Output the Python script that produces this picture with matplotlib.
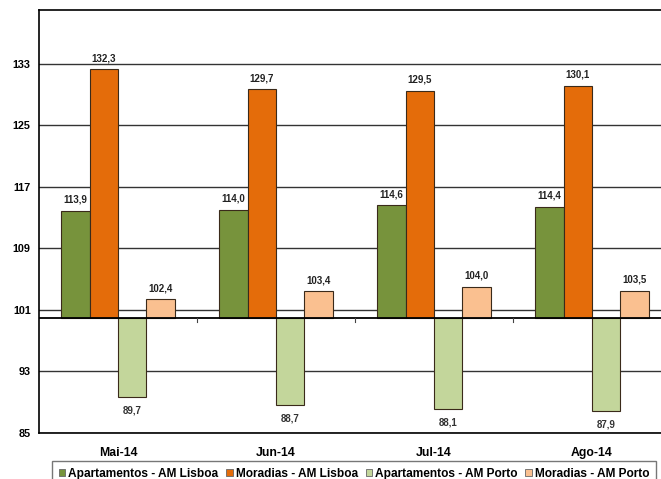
import numpy as np
import matplotlib
matplotlib.use("Agg")
import matplotlib.pyplot as plt

# dados (índice, base 100)
months = ["Mai-14", "Jun-14", "Jul-14", "Ago-14"]
series_names = ["Apartamentos - AM Lisboa", "Moradias - AM Lisboa",
                "Apartamentos - AM Porto", "Moradias - AM Porto"]
apart_lisboa = [113.9, 114.0, 114.6, 114.4]
moradias_lisboa = [132.3, 129.7, 129.5, 130.1]
apart_porto = [89.7, 88.7, 88.1, 87.9]
moradias_porto = [102.4, 103.4, 104.0, 103.5]
yticks = [85, 93, 101, 109, 117, 125, 133]

colors = ["#77933C", "#E46C0A", "#C3D69B", "#FAC090"]
base = 100

plt.rcParams['font.family'] = ['Liberation Sans', 'DejaVu Sans']

fig = plt.figure(figsize=(6.61, 4.79), dpi=100)
ax = fig.add_axes([39 / 661, 1 - 433 / 479, 632 / 661, 423 / 479])

x = np.arange(len(months))
width = 0.18
all_series = [apart_lisboa, moradias_lisboa, apart_porto, moradias_porto]

for i, (vals, col, name) in enumerate(zip(all_series, colors, series_names)):
    pos = x + (i - 1.5) * width
    heights = np.array(vals) - base
    ax.bar(pos, heights, width, bottom=base, color=col,
           edgecolor="#3a2a1a", linewidth=0.8, label=name, zorder=3)
    for xp, v in zip(pos, vals):
        txt = f"{v:.1f}".replace(".", ",")
        if v >= base:
            ax.text(xp, v + 0.8, txt, ha="center", va="bottom",
                    fontsize=7, fontweight="bold", color="#222222")
        else:
            ax.text(xp, v - 1.1, txt, ha="center", va="top",
                    fontsize=7, fontweight="bold", color="#333333")

# linha de base e marcas entre categorias
ax.axhline(base, color="black", linewidth=1.3, zorder=4)
for b in x[:-1] + 0.5:
    ax.plot([b, b], [base, base - 0.6], color="#444444", linewidth=0.8, zorder=4)

ax.set_ylim(85, 140)
ax.set_xlim(-0.5, len(months) - 0.5)
ax.set_yticks(yticks)
ax.set_yticklabels([str(t) for t in yticks], fontsize=7.8, fontweight="bold")
ax.yaxis.grid(True, color="#333333", linewidth=1.0, zorder=0)
ax.set_axisbelow(True)
ax.tick_params(axis="y", length=0, pad=6)

ax.set_xticks(x)
ax.set_xticklabels(months, fontsize=8.8, fontweight="bold")
ax.tick_params(axis="x", length=0, pad=10)

for s in ["left", "top", "bottom"]:
    ax.spines[s].set_color("black")
    ax.spines[s].set_linewidth(1.2)
ax.spines["right"].set_visible(False)

leg = fig.legend(loc="upper center", bbox_to_anchor=(354 / 661, 1 - 461 / 479),
                 ncol=4, frameon=True, fancybox=False,
                 edgecolor="#555555", handlelength=0.55, handleheight=0.55,
                 handletextpad=0.25, columnspacing=0.65, borderpad=0.55,
                 borderaxespad=0, prop={"weight": "bold", "size": 8.6})
for h in leg.legend_handles:
    h.set_edgecolor("#666666")
    h.set_linewidth(0.6)

fig.savefig("out.png", dpi=100)
